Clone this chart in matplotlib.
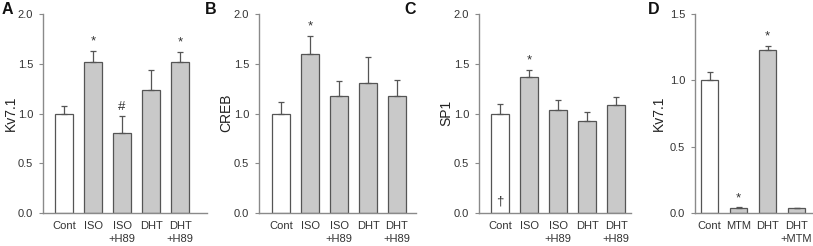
import numpy as np
import matplotlib
matplotlib.use("Agg")
import matplotlib.pyplot as plt

plt.rcParams.update({
    "font.family": ["Liberation Sans", "DejaVu Sans"],
    "font.size": 8,
})

GREY_FILL = "#c9c9c9"
EDGE = "#555555"
AXIS = "#8a8a8a"
TEXT = "#333333"

# ── data ───────────────────────────────────────────────────────────────────
labels_abc = ["Cont", "ISO", "ISO\n+H89", "DHT", "DHT\n+H89"]
labels_d = ["Cont", "MTM", "DHT", "DHT\n+MTM"]

kv71_a = [1.00, 1.52, 0.80, 1.24, 1.52]
kv71_a_err = [0.08, 0.11, 0.17, 0.20, 0.10]
kv71_a_marks = ["", "*", "#", "", "*"]

creb = [1.00, 1.60, 1.18, 1.31, 1.18]
creb_err = [0.12, 0.18, 0.15, 0.26, 0.16]
creb_marks = ["", "*", "", "", ""]

sp1 = [1.00, 1.37, 1.04, 0.92, 1.09]
sp1_err = [0.10, 0.07, 0.10, 0.10, 0.08]
sp1_marks = ["", "*", "", "", ""]

kv71_d = [1.00, 0.04, 1.23, 0.035]
kv71_d_err = [0.06, 0.005, 0.03, 0.004]
kv71_d_marks = ["", "*", "*", ""]

W, H = 813, 246


def panel(left_px, right_px, first_px, n_bars, ymax, yticks,
          values, errs, marks, labels, ylabel, letter, letter_x, ylabel_x):
    bottom, top = 213, 14
    ax = fig.add_axes([left_px / W, (H - bottom) / H,
                       (right_px - left_px) / W, (bottom - top) / H])
    spacing = 29.0
    x = np.arange(n_bars)
    colors = ["white"] + [GREY_FILL] * (n_bars - 1)
    ax.bar(x, values, width=0.6, color=colors, edgecolor=EDGE, linewidth=0.9,
           zorder=2)
    ax.errorbar(x, values, yerr=[np.zeros(n_bars), errs], fmt="none",
                ecolor=EDGE, elinewidth=0.9, capsize=2.5, capthick=0.9,
                zorder=3)
    for xi, v, e, m in zip(x, values, errs, marks):
        if m:
            ax.text(xi, v + e + ymax * 0.015, m, ha="center", va="bottom",
                    fontsize=9.5, color=TEXT)
    xmin = -(first_px - left_px) / spacing
    xmax = (right_px - first_px) / spacing
    ax.set_xlim(xmin, xmax)
    ax.set_ylim(0, ymax)
    ax.set_yticks(yticks)
    ax.set_yticklabels([f"{t:.1f}" for t in yticks], color=TEXT)
    ax.set_xticks(x)
    ax.set_xticklabels(labels, color=TEXT, va="top", linespacing=1.3)
    ax.tick_params(axis="x", length=0, pad=6)
    ax.tick_params(axis="y", length=3, width=0.8, color=AXIS, pad=4)
    for s in ["top", "right"]:
        ax.spines[s].set_visible(False)
    for s in ["left", "bottom"]:
        ax.spines[s].set_color(AXIS)
        ax.spines[s].set_linewidth(1.0)
    fig.text(ylabel_x / W, (H - 113) / H, ylabel, rotation=90, ha="center",
             va="center", fontsize=10, color="#222222")
    fig.text(letter_x / W, (H - 10) / H, letter, ha="left", va="center",
             fontsize=11.5, fontweight="bold", color="#111111")
    return ax


fig = plt.figure(figsize=(W / 100, H / 100), dpi=100)

panel(43, 207, 64, 5, 2.0, [0, 0.5, 1.0, 1.5, 2.0],
      kv71_a, kv71_a_err, kv71_a_marks, labels_abc, "Kv7.1", "A", 2, 11)
panel(259, 416, 281, 5, 2.0, [0, 0.5, 1.0, 1.5, 2.0],
      creb, creb_err, creb_marks, labels_abc, "CREB", "B", 205, 226)
ax_c = panel(479, 631, 500, 5, 2.0, [0, 0.5, 1.0, 1.5, 2.0],
             sp1, sp1_err, sp1_marks, labels_abc, "SP1", "C", 404, 446)
ax_c.text(0, 0.06, "\u2020", ha="center", va="bottom", fontsize=9.5, color=TEXT)
panel(695, 813, 709.5, 4, 1.5, [0, 0.5, 1.0, 1.5],
      kv71_d, kv71_d_err, kv71_d_marks, labels_d, "Kv7.1", "D", 648, 659)

fig.savefig("out.png", dpi=100)
